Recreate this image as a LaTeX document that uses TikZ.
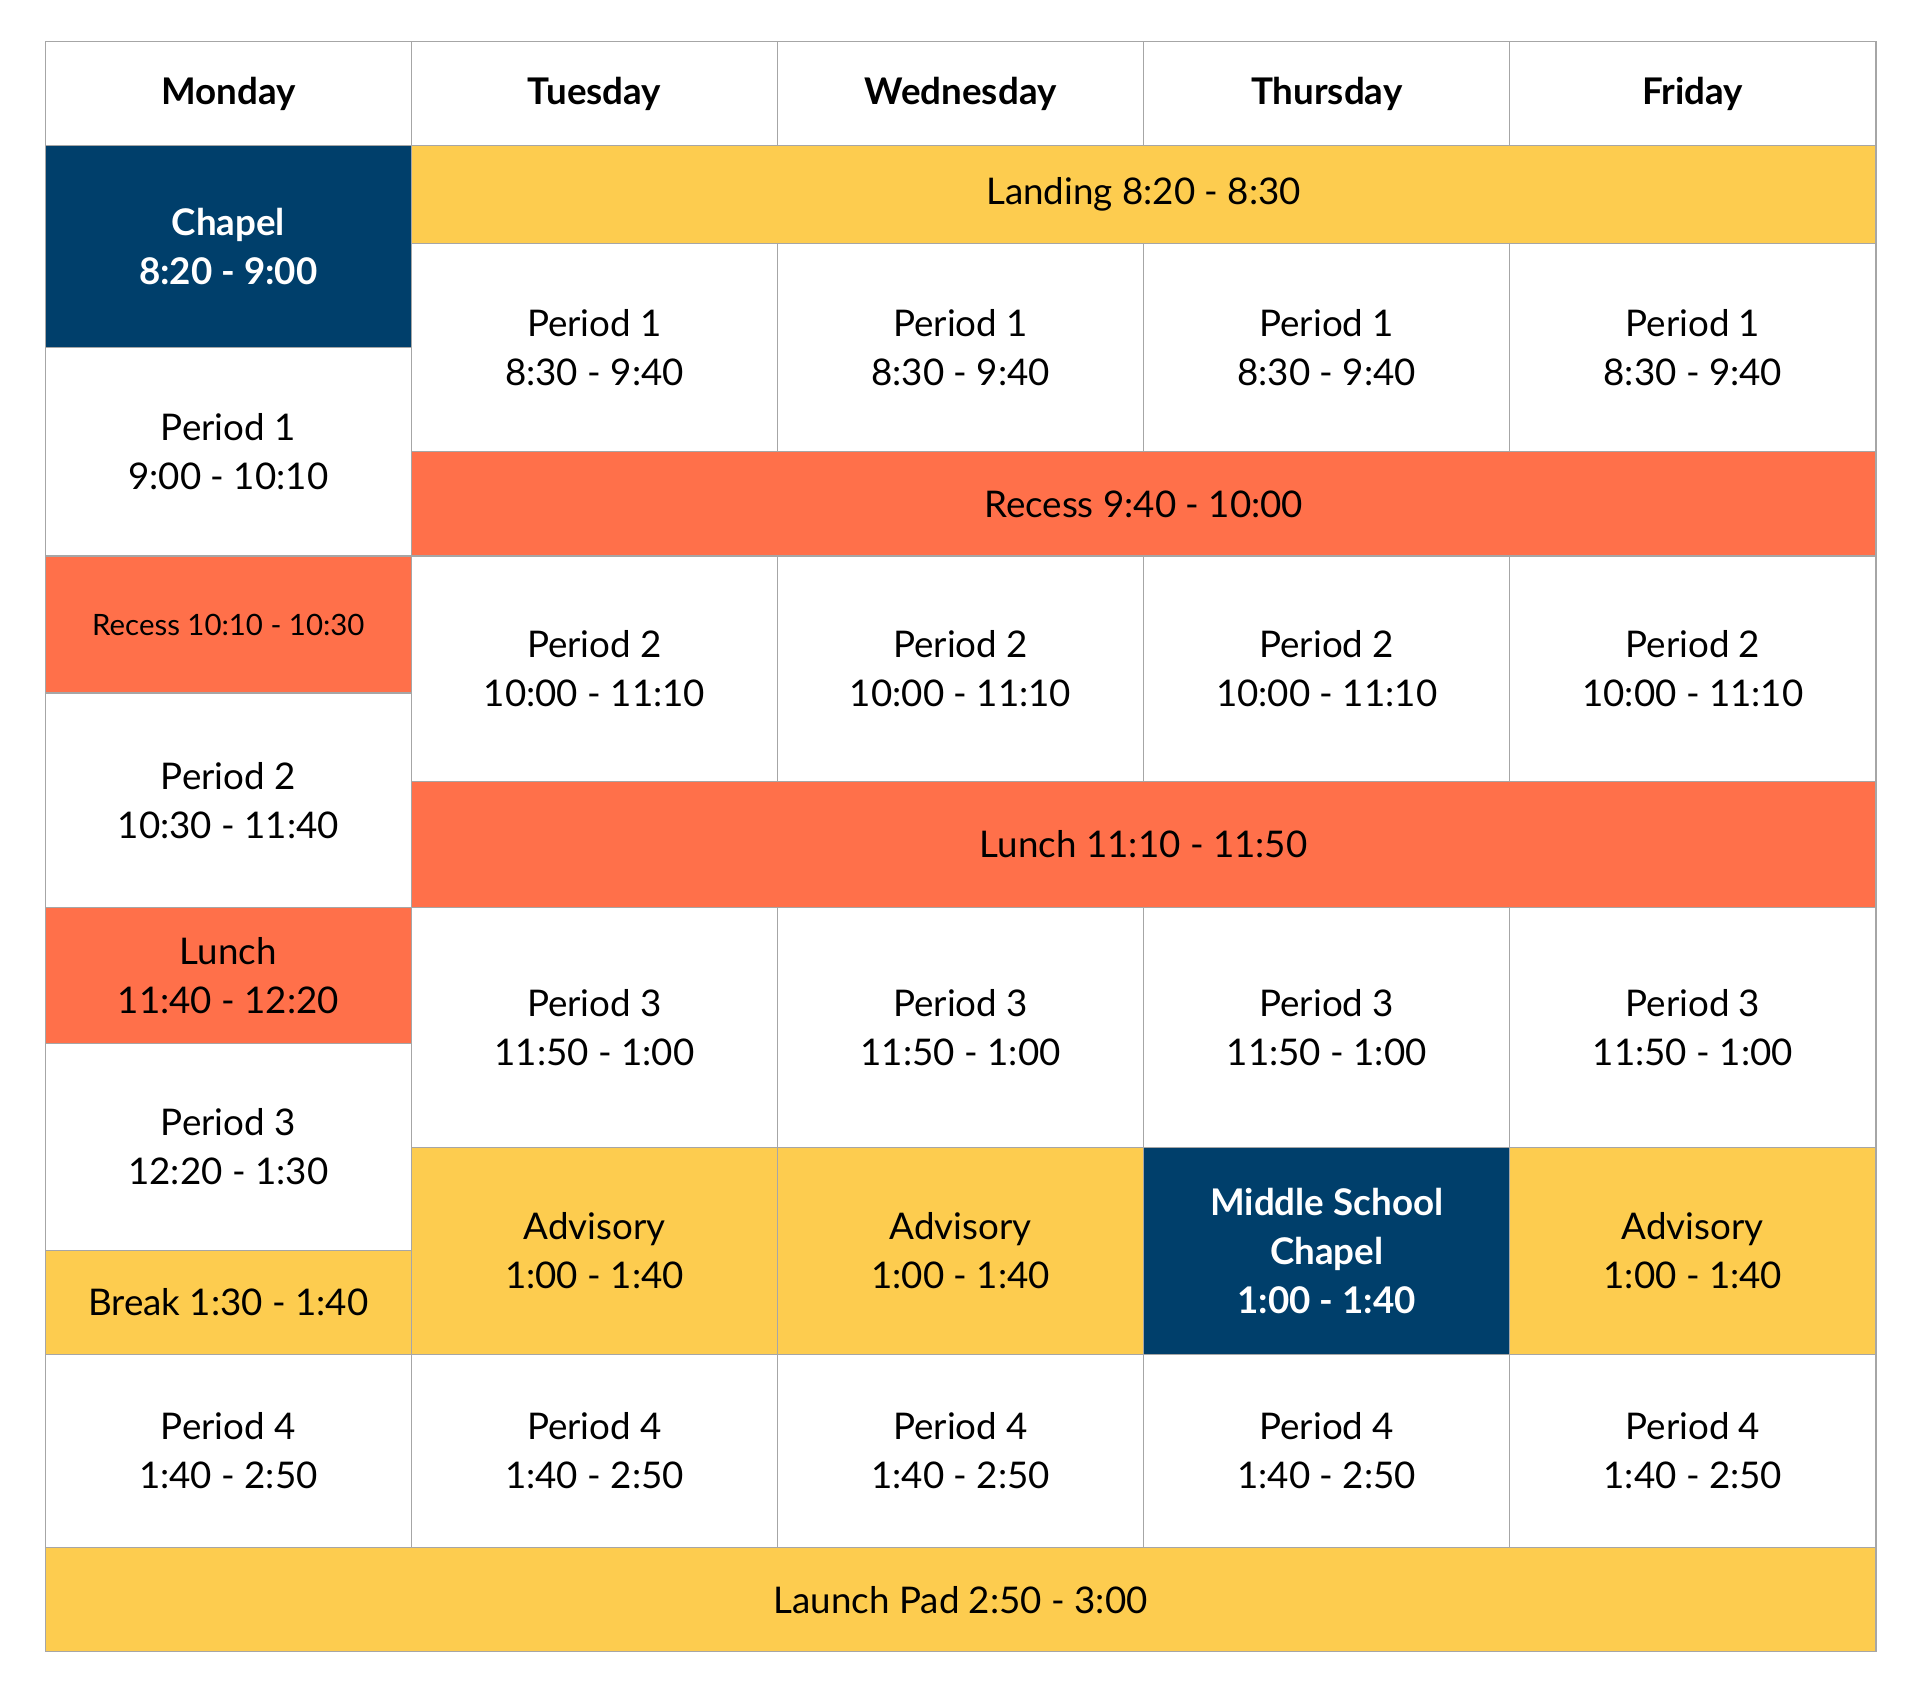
\documentclass[tikz,border=0pt]{standalone}
\usepackage{fontspec}
\setmainfont{Lato}
\definecolor{navy}{HTML}{003F6B}
\definecolor{gold}{HTML}{FDCC4F}
\definecolor{coral}{HTML}{FF704A}
\tikzset{
 cellbox/.style={draw=gray!70,line width=1pt,rectangle,inner sep=0pt,align=center,font=\fontsize{30}{40}\selectfont,text=black},
 wcell/.style={cellbox,fill=white},
 ycell/.style={cellbox,fill=gold},
 ocell/.style={cellbox,fill=coral},
 ncell/.style={cellbox,fill=navy,text=white,font=\bfseries\fontsize{30}{40}\selectfont},
 hcell/.style={cellbox,fill=white,font=\bfseries\fontsize{30}{40}\selectfont}
}
\newcommand\cell[7]{\node[#6,minimum width={(#4-#2)*1pt},minimum height={(#5-#3)*1pt}] (#1) at ({(#2+#4)/2},{-(#3+#5)/2}) {#7};}
\begin{document}
\begin{tikzpicture}[x=1pt,y=1pt]
\useasboundingbox[fill=white] (0,0) rectangle (1568,-1392);
\cell{h1}{37}{34}{336}{119}{hcell}{Monday}
\cell{h2}{336}{34}{635}{119}{hcell}{Tuesday}
\cell{h3}{635}{34}{934}{119}{hcell}{Wednesday}
\cell{h4}{934}{34}{1233}{119}{hcell}{Thursday}
\cell{h5}{1233}{34}{1532}{119}{hcell}{Friday}
% Monday
\cell{m1}{37}{119}{336}{284}{ncell}{Chapel\\8:20 - 9:00}
\cell{m2}{37}{284}{336}{454}{wcell}{Period 1\\9:00 - 10:10}
\cell{m3}{37}{454}{336}{566}{ocell,font=\fontsize{24}{30}\selectfont}{Recess 10:10 - 10:30}
\cell{m4}{37}{566}{336}{741}{wcell}{Period 2\\10:30 - 11:40}
\cell{m5}{37}{741}{336}{852}{ocell}{Lunch\\11:40 - 12:20}
\cell{m6}{37}{852}{336}{1021}{wcell}{Period 3\\12:20 - 1:30}
\cell{m7}{37}{1021}{336}{1106}{ycell}{Break 1:30 - 1:40}
% spans
\cell{landing}{336}{119}{1532}{199}{ycell}{Landing 8:20 - 8:30}
\cell{recess}{336}{369}{1532}{454}{ocell}{Recess 9:40 - 10:00}
\cell{lunch}{336}{638}{1532}{741}{ocell}{Lunch 11:10 - 11:50}
\cell{launch}{37}{1264}{1532}{1349}{ycell}{Launch Pad 2:50 - 3:00}
% Tue-Fri
\cell{t1}{336}{199}{635}{369}{wcell}{Period 1\\8:30 - 9:40}
\cell{w1}{635}{199}{934}{369}{wcell}{Period 1\\8:30 - 9:40}
\cell{r1}{934}{199}{1233}{369}{wcell}{Period 1\\8:30 - 9:40}
\cell{f1}{1233}{199}{1532}{369}{wcell}{Period 1\\8:30 - 9:40}
\cell{t2}{336}{454}{635}{638}{wcell}{Period 2\\10:00 - 11:10}
\cell{w2}{635}{454}{934}{638}{wcell}{Period 2\\10:00 - 11:10}
\cell{r2}{934}{454}{1233}{638}{wcell}{Period 2\\10:00 - 11:10}
\cell{f2}{1233}{454}{1532}{638}{wcell}{Period 2\\10:00 - 11:10}
\cell{t3}{336}{741}{635}{937}{wcell}{Period 3\\11:50 - 1:00}
\cell{w3}{635}{741}{934}{937}{wcell}{Period 3\\11:50 - 1:00}
\cell{r3}{934}{741}{1233}{937}{wcell}{Period 3\\11:50 - 1:00}
\cell{f3}{1233}{741}{1532}{937}{wcell}{Period 3\\11:50 - 1:00}
\cell{ta}{336}{937}{635}{1106}{ycell}{Advisory\\1:00 - 1:40}
\cell{wa}{635}{937}{934}{1106}{ycell}{Advisory\\1:00 - 1:40}
\cell{ra}{934}{937}{1233}{1106}{ncell}{Middle School\\Chapel\\1:00 - 1:40}
\cell{fa}{1233}{937}{1532}{1106}{ycell}{Advisory\\1:00 - 1:40}
\cell{m8}{37}{1106}{336}{1264}{wcell}{Period 4\\1:40 - 2:50}
\cell{t4}{336}{1106}{635}{1264}{wcell}{Period 4\\1:40 - 2:50}
\cell{w4}{635}{1106}{934}{1264}{wcell}{Period 4\\1:40 - 2:50}
\cell{r4}{934}{1106}{1233}{1264}{wcell}{Period 4\\1:40 - 2:50}
\cell{f4}{1233}{1106}{1532}{1264}{wcell}{Period 4\\1:40 - 2:50}
\end{tikzpicture}
\end{document}
